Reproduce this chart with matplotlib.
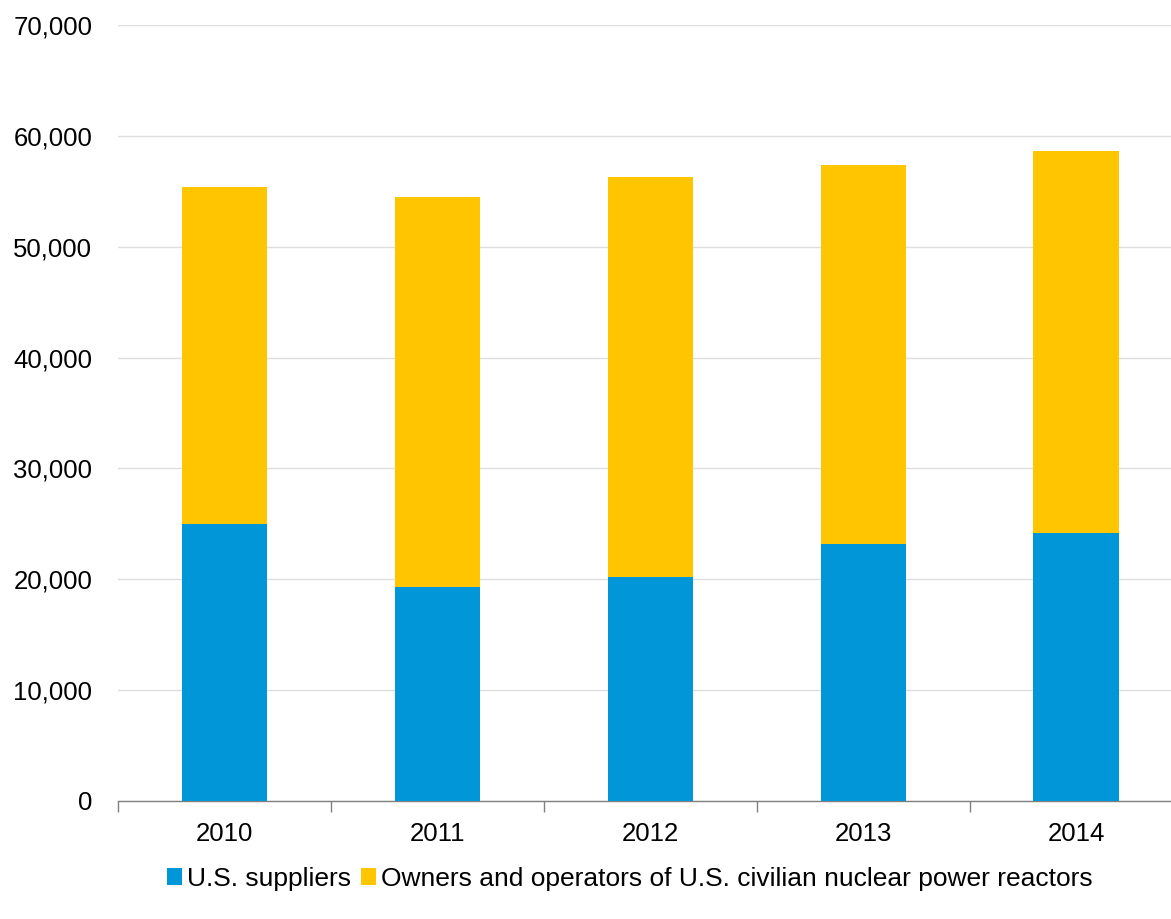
import matplotlib
matplotlib.use("Agg")
import matplotlib.pyplot as plt
from matplotlib.ticker import FuncFormatter, FixedLocator
import numpy as np

years = ["2010", "2011", "2012", "2013", "2014"]
suppliers = [24990, 19310, 20210, 23210, 24200]
totals = [55390, 54490, 56290, 57380, 58640]
owners = [t - s for t, s in zip(totals, suppliers)]

blue = "#0096D8"
yellow = "#FFC600"

plt.rcParams['font.family'] = ['Liberation Sans', 'DejaVu Sans']

fig = plt.figure(figsize=(11.71, 9.19), dpi=100)
ax = fig.add_axes([118/1171, 1 - 801/919, 1064.5/1171, (801-25)/919])

x = np.arange(len(years))
w = 0.40
ax.bar(x, suppliers, w, color=blue, label="U.S. suppliers", zorder=3)
ax.bar(x, owners, w, bottom=suppliers, color=yellow,
       label="Owners and operators of U.S. civilian nuclear power reactors", zorder=3)

ax.set_xlim(-0.5, len(years) - 0.5)
ax.set_ylim(0, 70000)
ax.set_yticks(np.arange(0, 70001, 10000))
ax.yaxis.set_major_formatter(FuncFormatter(lambda v, p: f"{int(v):,}"))
ax.tick_params(axis='y', length=0, labelsize=18.5, pad=18.5, colors='black')
ax.grid(axis='y', color='#dedede', linewidth=1, zorder=0)

ax.set_xticks(x)
ax.set_xticklabels(years)
ax.tick_params(axis='x', which='major', length=0, labelsize=18.5, pad=15)
ax.xaxis.set_minor_locator(FixedLocator(np.arange(-0.5, len(years), 1.0)))
ax.tick_params(axis='x', which='minor', length=8, width=1, color='#808080', direction='out')

for s in ['top', 'right', 'left']:
    ax.spines[s].set_visible(False)
ax.spines['bottom'].set_color('#808080')
ax.spines['bottom'].set_linewidth(1)

leg = fig.legend(loc='center', bbox_to_anchor=(630/1171, 1 - 879/919), ncol=2,
                 frameon=False, fontsize=19, handlelength=0.55, handleheight=0.6,
                 handletextpad=0.2, columnspacing=0.4)

fig.savefig("out.png", dpi=100)
